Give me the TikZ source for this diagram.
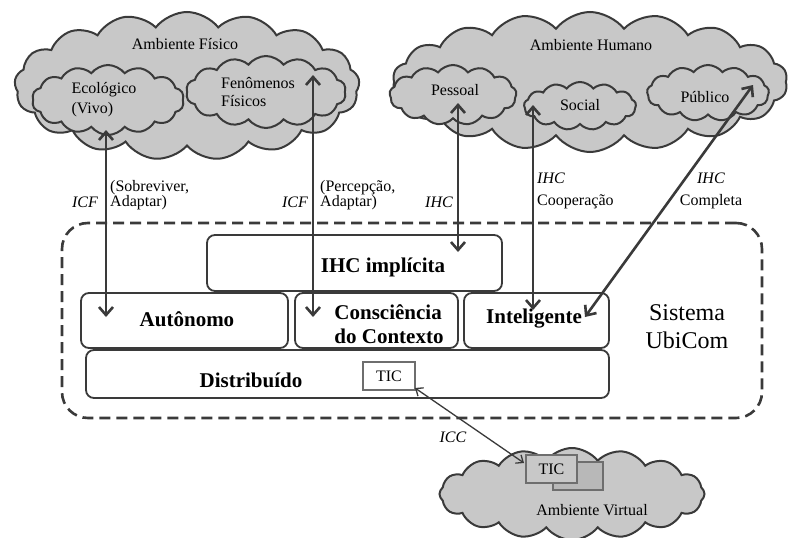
\documentclass[tikz,border=0pt]{standalone}
\usepackage{fontspec}
\setmainfont{Liberation Serif}
\usetikzlibrary{shapes.symbols,arrows.meta}
\definecolor{cloudfill}{RGB}{200,200,200}
\definecolor{edge}{RGB}{58,58,58}
\definecolor{thinedge}{RGB}{110,110,110}
\begin{document}
\begin{tikzpicture}[x=1pt,y=-1pt,
  cloudshape/.style={cloud, cloud ignores aspect, draw=edge, fill=cloudfill, line width=2pt, inner sep=0pt, cloud puff arc=105},
  box/.style={draw=edge, line width=1.8pt, rounded corners=8pt, fill=white, inner sep=0pt},
  txt/.style={font=\fontsize{16}{18}\selectfont, inner sep=0pt},
  btxt/.style={font=\fontsize{21}{24}\selectfont\bfseries, inner sep=0pt},
  link/.style={draw=edge, line width=2.6pt, {Straight Barb[length=8pt,width=14pt]}-{Straight Barb[length=8pt,width=14pt]}},
  thinlink/.style={draw=edge, line width=1.3pt, {Straight Barb[length=6pt,width=10pt]}-{Straight Barb[length=6pt,width=10pt]}},
  ticbox/.style={draw=thinedge, line width=1.4pt, inner sep=0pt},
]
\useasboundingbox (0,0) rectangle (788,538);
\fill[white] (0,0) rectangle (788,538);

% ---------- clouds ----------
\node[cloudshape, cloud puffs=17, minimum width=345pt, minimum height=148pt] (fisico) at (187,86) {};
\node[cloudshape, cloud puffs=14, minimum width=152pt, minimum height=70pt] (ecol) at (108,100) {};
\node[cloudshape, cloud puffs=14, minimum width=160pt, minimum height=72pt] (fenom) at (266,92) {};
\node[txt] (fisicoT) at (185,44) {Ambiente Físico};
\node[txt, align=left, font=\fontsize{16}{20}\selectfont] (ecolT) at (104,100) {Ecológico\\(Vivo)};
\node[txt, align=left] (fenomT) at (258,92) {Fenômenos\\Físicos};

\node[cloudshape, cloud puffs=18, minimum width=395pt, minimum height=140pt] (humano) at (590,82) {};
\node[cloudshape, cloud puffs=13, minimum width=127pt, minimum height=60pt] (pessoal) at (453,95) {};
\node[cloudshape, cloud puffs=13, minimum width=112pt, minimum height=48pt] (social) at (580,106) {};
\node[cloudshape, cloud puffs=13, minimum width=122pt, minimum height=56pt] (publico) at (708,93) {};
\node[txt] (humanoT) at (591,45) {Ambiente Humano};
\node[txt] (pessoalT) at (455,90) {Pessoal};
\node[txt] (socialT) at (580,105) {Social};
\node[txt] (publicoT) at (705,97) {Público};

\node[cloudshape, cloud puffs=16, minimum width=265pt, minimum height=92pt] (virtual) at (572,494) {};
\node[txt] (virtualT) at (592,510) {Ambiente Virtual};
\node[ticbox, fill=cloudfill!92!black, minimum width=50pt, minimum height=28pt] (ticb) at (578,476) {};
\node[ticbox, fill=cloudfill, minimum width=51pt, minimum height=28pt, font=\fontsize{16}{18}\selectfont] (ticf) at (551.5,469) {TIC};

% ---------- UbiCom system ----------
\node[draw=edge, dash pattern=on 11pt off 6pt, line width=2.6pt, rounded corners=26pt,
      minimum width=700pt, minimum height=195pt, inner sep=0pt] (ubi) at (412,320.5) {};
\node[font=\fontsize{24}{28}\selectfont, align=center, inner sep=0pt] (sys) at (687,327) {Sistema\\UbiCom};

\node[box, minimum width=295pt, minimum height=56pt] (implicita) at (354.5,263) {};
\node[btxt] (implicitaT) at (383,267) {IHC implícita};
\node[box, minimum width=207pt, minimum height=55pt] (auto) at (184.5,320.5) {};
\node[btxt] (autoT) at (187,319) {Autônomo};
\node[box, minimum width=163pt, minimum height=55pt] (consc) at (376.5,320.5) {};
\node[btxt, align=left] (conscT) at (389,324) {Consciência\\do Contexto};
\node[box, minimum width=145pt, minimum height=55pt] (intel) at (536.5,320.5) {};
\node[btxt] (intelT) at (534,319) {Inteligente};
\node[box, minimum width=523pt, minimum height=48pt] (distr) at (347.5,374) {};
\node[btxt] (distrT) at (251,380) {Distribuído};
\node[ticbox, fill=white, minimum width=52pt, minimum height=28pt, font=\fontsize{16}{18}\selectfont] (tics) at (389,376) {TIC};

% ---------- connectors ----------
\coordinate (a1s) at (106,130);
\coordinate (a1e) at (106,317);
\coordinate (a2s) at (313,75);
\coordinate (a2e) at (313,317);
\coordinate (a3s) at (458,103);
\coordinate (a3e) at (458,252);
\coordinate (a4s) at (533,105);
\coordinate (a4e) at (533,310);
\coordinate (a5s) at (753,85);
\coordinate (a5e) at (585,317);
\coordinate (a6s) at (415,388);
\coordinate (a6e) at (524,463);
\draw[link] (a1s) -- (a1e);
\draw[link] (a2s) -- (a2e);
\draw[link] (a3s) -- (a3e);
\draw[link] (a4s) -- (a4e);
\draw[link] (a5s) -- (a5e);
\draw[thinlink] (a6s) -- (a6e);

% ---------- labels ----------
\node[txt, font=\fontsize{16}{18}\itshape\selectfont] (icf1) at (85,202) {ICF};
\node[txt, align=left, anchor=west, font=\fontsize{16}{15}\selectfont] (sobT) at (110,195.5) {(Sobreviver,\\Adaptar)};
\node[txt, font=\fontsize{16}{18}\itshape\selectfont] (icf2) at (295,202) {ICF};
\node[txt, align=left, anchor=west, font=\fontsize{16}{15}\selectfont] (percT) at (320,195.5) {(Percepção,\\Adaptar)};
\node[txt, font=\fontsize{16}{18}\itshape\selectfont] (ihc1) at (439,202) {IHC};
\node[txt, align=left, anchor=west, font=\fontsize{16}{22}\selectfont] (coopT) at (537,191) {\textit{IHC}\\Cooperação};
\node[txt, align=center, font=\fontsize{16}{22}\selectfont] (complT) at (711,191) {\textit{IHC}\\Completa};
\node[txt, font=\fontsize{16}{18}\itshape\selectfont] (icc) at (453,437) {ICC};
\end{tikzpicture}
\end{document}
